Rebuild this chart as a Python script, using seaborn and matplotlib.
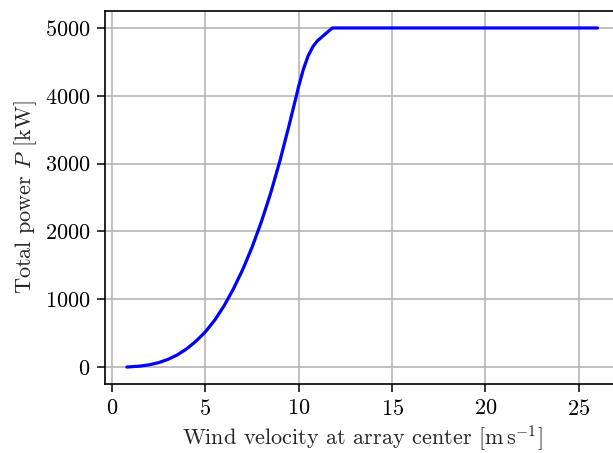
import matplotlib
matplotlib.use("Agg")
import matplotlib.pyplot as plt
import seaborn as sns
import pandas as pd

# Power curve of the array: wind speed [m/s] vs. total power [kW]
wind_speed = [0.8, 1.0, 1.5, 2.0, 2.5, 3.0, 3.5, 4.0, 4.5, 5.0, 5.5, 6.0, 6.5, 7.0,
              7.5, 8.0, 8.5, 9.0, 9.5, 10.0, 10.25, 10.5, 10.75, 11.0, 11.8,
              12.0, 13.0, 14.0, 15.0, 16.0, 17.0, 18.0, 19.0, 20.0, 21.0, 22.0,
              23.0, 24.0, 25.0, 26.0]
total_power = [0, 4, 14, 33, 65, 113, 179, 268, 381, 518, 690, 900, 1150, 1435,
               1765, 2140, 2565, 3045, 3580, 4140, 4390, 4585, 4720, 4810, 5000,
               5000, 5000, 5000, 5000, 5000, 5000, 5000, 5000, 5000, 5000, 5000,
               5000, 5000, 5000, 5000]

x_ticks = [0, 5, 10, 15, 20, 25]
y_ticks = [0, 1000, 2000, 3000, 4000, 5000]

sns.set_style("ticks")
plt.rcParams.update({
    "font.family": "serif",
    "font.serif": ["cmr10", "DejaVu Serif"],
    "mathtext.fontset": "cm",
    "axes.formatter.use_mathtext": True,
    "font.size": 16,
    "axes.edgecolor": "black",
    "axes.linewidth": 1.2,
    "xtick.color": "black",
    "ytick.color": "black",
    "xtick.major.size": 5.5,
    "ytick.major.size": 5.5,
    "xtick.major.width": 1.1,
    "ytick.major.width": 1.1,
    "xtick.major.pad": 5,
    "ytick.major.pad": 5,
})

df = pd.DataFrame({"v": wind_speed, "P": total_power})

fig = plt.figure(figsize=(6.13, 4.53), dpi=100)
ax = fig.add_axes([0.1713, 0.1523, 0.84, 0.8234])

ax.grid(True, color="#b0b0b0", linewidth=1.1, zorder=0)
ax.set_axisbelow(True)
sns.lineplot(data=df, x="v", y="P", color="blue", linewidth=2.3, ax=ax)

ax.set_xlim(-0.37, 27.2)
ax.set_ylim(-250, 5250)
ax.set_xticks(x_ticks)
ax.set_yticks(y_ticks)
ax.tick_params(labelsize=16)

ax.set_xlabel(r"Wind velocity at array center [$\mathrm{m\,s^{-1}}$]", fontsize=16, labelpad=3)
ax.set_ylabel(r"Total power $P$ [kW]", fontsize=16, labelpad=4)

fig.savefig("out.png", dpi=100)
